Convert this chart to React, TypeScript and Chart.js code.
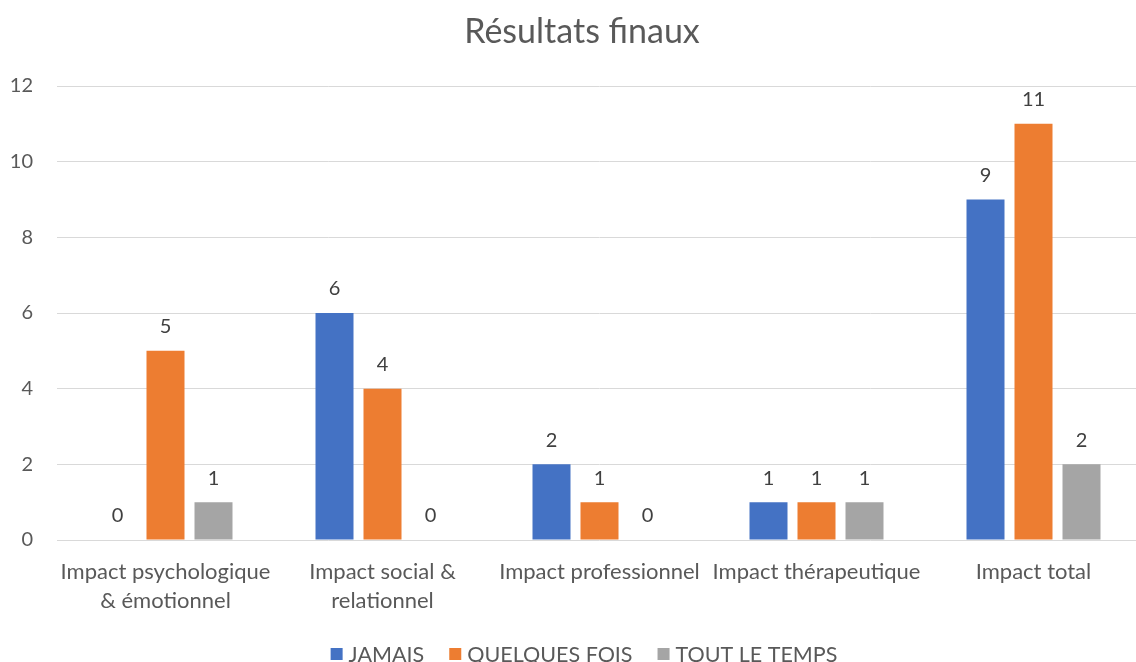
import React, { useEffect, useRef } from "react";
import { Chart, registerables } from "chart.js";

Chart.register(...registerables);

const categories: (string | string[])[] = [
  ["Impact psychologique", "& émotionnel"],
  ["Impact social &", "relationnel"],
  "Impact professionnel",
  "Impact thérapeutique",
  "Impact total",
];
const chartTitle = "Résultats finaux";
const seriesNames = ["JAMAIS", "QUELQUES FOIS", "TOUT LE TEMPS"];
const seriesColors = ["#4472C4", "#ED7D31", "#A5A5A5"];
const jamais = [0, 6, 2, 1, 9];
const quelquesFois = [5, 4, 1, 1, 11];
const toutLeTemps = [1, 0, 0, 1, 2];
const yMin = 0;
const yMax = 12;
const yStep = 2;

const FONT = "Lato";
const CANVAS_W = 1165;
const CANVAS_H = 662;
const CENTER_X = 584;

const dataLabelPlugin = {
  id: "dataLabels",
  afterDatasetsDraw(chart: any) {
    const { ctx } = chart;
    ctx.save();
    ctx.font = `20px ${FONT}`;
    ctx.fillStyle = "#404040";
    ctx.textAlign = "center";
    ctx.textBaseline = "middle";
    chart.data.datasets.forEach((ds: any, i: number) => {
      const meta = chart.getDatasetMeta(i);
      meta.data.forEach((bar: any, j: number) => {
        ctx.fillText(String(ds.data[j]), bar.x, bar.y - 24);
      });
    });
    ctx.restore();
  },
};

const titleLegendPlugin = {
  id: "titleLegend",
  afterDraw(chart: any) {
    const { ctx } = chart;
    ctx.save();
    // title
    ctx.font = `34px ${FONT}`;
    ctx.fillStyle = "#595959";
    ctx.textAlign = "center";
    ctx.textBaseline = "middle";
    ctx.fillText(chartTitle, 582, 32);
    // legend
    ctx.font = `21.5px ${FONT}`;
    const box = 12;
    const boxGap = 6;
    const itemGap = 25;
    const items = chart.data.datasets.map((ds: any) => ({
      text: ds.label as string,
      color: ds.backgroundColor as string,
      w: ctx.measureText(ds.label).width,
    }));
    const total =
      items.reduce((a: number, it: any) => a + box + boxGap + it.w, 0) +
      itemGap * (items.length - 1);
    let x = CENTER_X - total / 2;
    const cy = 654;
    ctx.textAlign = "left";
    items.forEach((it: any) => {
      ctx.fillStyle = it.color;
      ctx.fillRect(x, cy - box / 2, box, box);
      ctx.fillStyle = "#595959";
      ctx.fillText(it.text, x + box + boxGap, cy + 1);
      x += box + boxGap + it.w + itemGap;
    });
    ctx.restore();
  },
};

export default function App() {
  const ref = useRef<HTMLCanvasElement | null>(null);
  useEffect(() => {
    let chart: Chart | null = null;
    let cancelled = false;
    const make = () => {
      if (cancelled || !ref.current) return;
      chart = new Chart(ref.current, {
        type: "bar",
        data: {
          labels: categories,
          datasets: [
            { label: seriesNames[0], data: jamais, backgroundColor: seriesColors[0] },
            { label: seriesNames[1], data: quelquesFois, backgroundColor: seriesColors[1] },
            { label: seriesNames[2], data: toutLeTemps, backgroundColor: seriesColors[2] },
          ],
        },
        options: {
          responsive: false,
          animation: false,
          layout: { padding: { left: 0, right: 23, top: 86, bottom: 44 } },
          datasets: {
            bar: { categoryPercentage: 0.6636, barPercentage: 0.7917 },
          } as any,
          plugins: {
            title: { display: false },
            legend: { display: false },
            tooltip: { enabled: false },
          },
          scales: {
            x: {
              grid: { display: false, drawTicks: false },
              border: { display: false },
              ticks: {
                color: "#595959",
                padding: 17.5,
                maxRotation: 0,
                autoSkip: false,
                font: { family: FONT, size: 22, lineHeight: 1.32 },
              },
              afterFit: (s: any) => {
                s.height = 78;
              },
            },
            y: {
              min: yMin,
              max: yMax,
              grid: { color: "#D9D9D9", lineWidth: 1, drawTicks: false },
              border: { display: false },
              ticks: {
                stepSize: yStep,
                padding: 24,
                color: "#595959",
                font: { family: FONT, size: 20 },
              },
              afterFit: (s: any) => {
                s.width = 57;
              },
            },
          },
        },
        plugins: [dataLabelPlugin, titleLegendPlugin],
      });
    };
    const fonts: any = (document as any).fonts;
    if (fonts && fonts.load) {
      Promise.all([
        fonts.load(`20px ${FONT}`),
        fonts.load(`22px ${FONT}`),
        fonts.load(`34px ${FONT}`),
      ])
        .catch(() => {})
        .then(make);
    } else {
      make();
    }
    return () => {
      cancelled = true;
      if (chart) chart.destroy();
    };
  }, []);
  return (
    <div
      style={{
        position: "fixed",
        left: 0,
        top: 0,
        width: 1136,
        height: 662,
        overflow: "hidden",
        background: "#ffffff",
      }}
    >
      <canvas ref={ref} width={CANVAS_W} height={CANVAS_H} style={{ display: "block" }} />
    </div>
  );
}
